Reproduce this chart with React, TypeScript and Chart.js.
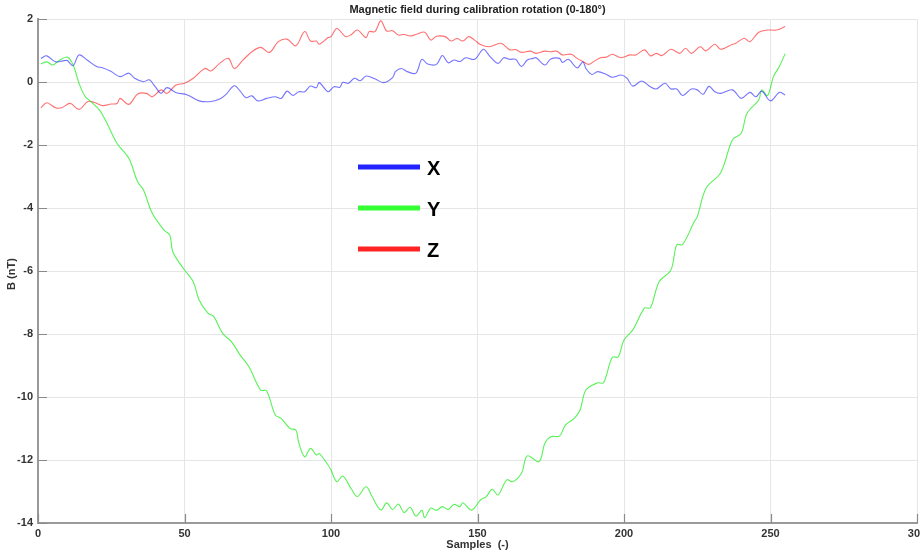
import React, { useEffect, useRef } from "react";
import { Chart, registerables } from "chart.js";

Chart.register(...registerables);

const chartTitle = "Magnetic field during calibration rotation (0-180°)";
const xAxisTitle = "Samples  (-)";
const yAxisTitle = "B (nT)";
const seriesNames = ["X", "Y", "Z"];

const xTicks = [0, 50, 100, 150, 200, 250, 300];
const yTicks = [-14, -12, -10, -8, -6, -4, -2, 0, 2];

// Series X (blue)
const samplesX = [
  1, 3, 6, 9, 10, 12, 14, 17, 20, 22,
  25, 28, 31, 33, 36, 38, 40, 42, 44, 47,
  51, 55, 59, 62, 64, 67, 69, 71, 73, 75,
  78, 81, 83, 85, 87, 89, 91, 93, 95, 96,
  99, 101, 103, 104, 106, 108, 110, 112, 115, 118,
  121, 122, 124, 126, 129, 131, 133, 136, 138, 140,
  142, 144, 146, 149, 152, 154, 157, 159, 161, 163,
  165, 167, 169, 170, 173, 175, 178, 179, 181, 184,
  186, 187, 189, 191, 194, 196, 199, 201, 203, 206,
  209, 211, 214, 216, 218, 220, 223, 225, 227, 229,
  231, 233, 237, 240, 243, 245, 247, 250, 253, 255,
];
const valuesX = [
  0.75, 0.83, 0.64, 0.68, 0.68, 0.52, 0.86, 0.68, 0.49, 0.45,
  0.33, 0.17, 0.28, 0.12, 0.01, 0.07, -0.15, -0.36, -0.18, -0.33,
  -0.41, -0.6, -0.62, -0.54, -0.41, -0.12, -0.29, -0.5, -0.44, -0.6,
  -0.52, -0.47, -0.52, -0.29, -0.43, -0.31, -0.31, -0.13, -0.18, -0.02,
  -0.31, -0.15, -0.17, -0.01, -0.04, 0.12, 0.04, 0.19, 0.1, -0.02,
  0.14, 0.33, 0.43, 0.33, 0.28, 0.72, 0.57, 0.56, 0.84, 0.61,
  0.7, 0.65, 0.77, 0.72, 1.04, 0.84, 0.59, 0.77, 0.72, 0.72,
  0.49, 0.7, 0.75, 0.77, 0.54, 0.73, 0.75, 0.62, 0.72, 0.45,
  0.64, 0.43, 0.24, 0.33, 0.24, 0.15, 0.22, 0.12, -0.13, 0.03,
  -0.15, -0.22, -0.04, -0.22, -0.22, -0.43, -0.22, -0.25, -0.39, -0.14,
  -0.31, -0.36, -0.25, -0.52, -0.33, -0.47, -0.29, -0.6, -0.33, -0.41,
];

// Series Y (green)
const samplesY = [
  1, 3, 5, 7, 10, 12, 14, 16, 18, 21,
  23, 27, 31, 34, 36, 39, 43, 45, 46, 50,
  53, 55, 58, 60, 63, 66, 69, 72, 76, 78,
  81, 83, 86, 88, 89, 91, 93, 95, 96, 99,
  100, 102, 104, 107, 109, 112, 114, 117, 119, 121,
  123, 125, 127, 129, 131, 132, 134, 136, 138, 140,
  142, 144, 145, 148, 151, 153, 155, 157, 160, 162,
  165, 167, 171, 173, 175, 178, 180, 183, 185, 187,
  191, 193, 196, 198, 200, 203, 207, 209, 212, 216,
  218, 220, 224, 225, 228, 233, 237, 240, 242, 246,
  247, 249, 251, 253, 255,
];
const valuesY = [
  0.57, 0.64, 0.54, 0.67, 0.79, 0.54, -0.04, -0.45, -0.62, -0.89,
  -1.21, -1.95, -2.42, -3.17, -3.43, -4.17, -4.7, -4.86, -5.39, -5.97,
  -6.34, -6.92, -7.34, -7.45, -7.98, -8.24, -8.67, -9.04, -9.78, -9.8,
  -10.57, -10.68, -11.0, -11.05, -11.45, -11.9, -11.63, -11.84, -11.8, -12.16,
  -12.32, -12.69, -12.51, -12.93, -13.16, -12.85, -13.16, -13.59, -13.36, -13.57,
  -13.4, -13.67, -13.5, -13.78, -13.6, -13.83, -13.53, -13.6, -13.48, -13.57,
  -13.41, -13.48, -13.36, -13.59, -13.27, -13.16, -12.93, -13.11, -12.63, -12.69,
  -12.42, -11.87, -12.05, -11.47, -11.26, -11.24, -10.89, -10.68, -10.41, -9.78,
  -9.55, -9.55, -8.74, -8.73, -8.19, -7.87, -7.18, -7.17, -6.34, -5.97,
  -5.17, -5.16, -4.43, -4.28, -3.37, -2.88, -1.84, -1.63, -0.99, -0.57,
  -0.25, -0.43, 0.17, 0.49, 0.9,
];

// Series Z (red)
const samplesZ = [
  1, 3, 6, 8, 11, 14, 17, 19, 22, 25,
  27, 28, 31, 34, 37, 39, 42, 44, 47, 50,
  53, 57, 59, 62, 65, 67, 70, 73, 76, 79,
  82, 85, 88, 91, 93, 95, 96, 99, 100, 102,
  105, 107, 109, 112, 113, 115, 117, 119, 121, 123,
  125, 127, 129, 132, 134, 136, 139, 141, 143, 145,
  147, 149, 151, 154, 158, 161, 163, 165, 168, 170,
  173, 175, 177, 179, 182, 184, 186, 188, 190, 192,
  194, 196, 199, 202, 204, 207, 209, 211, 213, 216,
  219, 221, 223, 226, 228, 231, 233, 237, 238, 241,
  243, 246, 249, 252, 255,
];
const valuesZ = [
  -0.82, -0.66, -0.82, -0.82, -0.68, -0.87, -0.62, -0.64, -0.75, -0.7,
  -0.68, -0.52, -0.71, -0.38, -0.36, -0.47, -0.25, -0.36, -0.1, -0.04,
  0.12, 0.43, 0.35, 0.59, 0.75, 0.43, 0.7, 0.96, 1.1, 0.94,
  1.28, 1.36, 1.15, 1.6, 1.3, 1.3, 1.2, 1.41, 1.44, 1.7,
  1.44, 1.51, 1.65, 1.41, 1.6, 1.6, 1.94, 1.62, 1.63, 1.49,
  1.51, 1.46, 1.51, 1.58, 1.33, 1.45, 1.44, 1.3, 1.38, 1.3,
  1.44, 1.33, 1.19, 1.12, 1.23, 1.02, 1.03, 0.94, 0.98, 0.91,
  0.98, 0.96, 0.98, 0.86, 0.88, 0.75, 0.65, 0.56, 0.67, 0.77,
  0.79, 0.88, 0.77, 0.86, 0.86, 1.02, 0.83, 0.91, 0.84, 1.04,
  0.91, 1.07, 0.91, 1.12, 0.99, 1.2, 1.04, 1.2, 1.22, 1.39,
  1.28, 1.58, 1.65, 1.65, 1.76,
];

const lineColors = ["rgba(30,30,255,0.62)", "rgba(20,235,20,0.7)", "rgba(255,25,25,0.62)"];
const legendColors = ["#2323ff", "#33ff33", "#ff2323"];

const toPoints = (xs: number[], ys: number[]) => xs.map((x, i) => ({ x, y: ys[i] }));

const FONT = "'Liberation Sans', Arial, sans-serif";

const decoPlugin = {
  id: "deco",
  afterDraw(chart: any) {
    const { ctx, chartArea, scales } = chart;
    const { left, right, top, bottom } = chartArea;
    ctx.save();
    // inner tick marks
    ctx.strokeStyle = "#8a8a8a";
    ctx.lineWidth = 1.2;
    ctx.beginPath();
    xTicks.forEach((v) => {
      const px = Math.round(scales.x.getPixelForValue(v)) + 0.5;
      ctx.moveTo(px, bottom);
      ctx.lineTo(px, bottom - 9);
    });
    yTicks.forEach((v) => {
      const py = Math.round(scales.y.getPixelForValue(v)) + 0.5;
      ctx.moveTo(left, py);
      ctx.lineTo(left + 9, py);
    });
    ctx.stroke();

    // title
    ctx.fillStyle = "#222";
    ctx.font = `bold 11px ${FONT}`;
    ctx.textAlign = "center";
    ctx.textBaseline = "middle";
    const cx = (left + right) / 2;
    ctx.fillText(chartTitle, cx, 10);
    // x axis title
    ctx.fillStyle = "#333";
    ctx.fillText(xAxisTitle, cx, 545);
    // y axis title
    ctx.save();
    ctx.translate(12, (top + bottom) / 2 + 3);
    ctx.rotate(-Math.PI / 2);
    ctx.fillText(yAxisTitle, 0, 0);
    ctx.restore();

    // legend inside plot
    const legendRows = [167, 208, 249];
    ctx.lineCap = "butt";
    seriesNames.forEach((name, i) => {
      const y = legendRows[i];
      ctx.strokeStyle = legendColors[i];
      ctx.lineWidth = 5;
      ctx.beginPath();
      ctx.moveTo(left + 320, y);
      ctx.lineTo(left + 382, y);
      ctx.stroke();
      ctx.fillStyle = "#000";
      ctx.font = `bold 20px ${FONT}`;
      ctx.textAlign = "left";
      ctx.textBaseline = "middle";
      ctx.fillText(name, left + 389, y + 2);
    });
    ctx.restore();
  },
};

export default function App() {
  const canvasRef = useRef<HTMLCanvasElement | null>(null);

  useEffect(() => {
    document.body.style.margin = "0";
    const canvas = canvasRef.current;
    if (!canvas) return;
    const chart = new Chart(canvas, {
      type: "line",
      data: {
        datasets: [
          { label: seriesNames[0], data: toPoints(samplesX, valuesX) },
          { label: seriesNames[1], data: toPoints(samplesY, valuesY) },
          { label: seriesNames[2], data: toPoints(samplesZ, valuesZ) },
        ].map((d, i) => ({
          ...d,
          borderColor: lineColors[i],
          backgroundColor: lineColors[i],
          borderWidth: 1.1,
          pointRadius: 0,
          tension: 0.35,
          fill: false,
        })),
      },
      options: {
        responsive: false,
        animation: false,
        devicePixelRatio: 1,
        layout: { padding: { top: 19, right: 3, left: 0, bottom: 0 } },
        plugins: {
          legend: { display: false },
          title: { display: false },
          tooltip: { enabled: false },
        },
        scales: {
          x: {
            type: "linear",
            min: 0,
            max: 300,
            afterBuildTicks: (scale: any) => {
              scale.ticks = xTicks.map((v) => ({ value: v }));
            },
            afterFit: (scale: any) => {
              scale.height = 30;
              scale.paddingLeft = 0;
              scale.paddingRight = 0;
            },
            ticks: {
              color: "#333",
              font: { family: FONT, size: 11, weight: "bold" },
              padding: 4,
              maxRotation: 0,
              autoSkip: false,
            },
            grid: { color: "#e6e6e6", lineWidth: 1, drawTicks: false },
            border: { display: true, color: "#9a9a9a", width: 2 },
          },
          y: {
            type: "linear",
            min: -14,
            max: 2,
            afterBuildTicks: (scale: any) => {
              scale.ticks = yTicks.map((v) => ({ value: v }));
            },
            afterFit: (scale: any) => {
              scale.width = 38;
              scale.paddingTop = 0;
              scale.paddingBottom = 0;
            },
            ticks: {
              color: "#333",
              font: { family: FONT, size: 11, weight: "bold" },
              padding: 5,
              autoSkip: false,
            },
            grid: { color: "#e6e6e6", lineWidth: 1, drawTicks: false },
            border: { display: true, color: "#9a9a9a", width: 2 },
          },
        },
      },
      plugins: [decoPlugin],
    } as any);
    return () => chart.destroy();
  }, []);

  return (
    <div style={{ width: 920, height: 553, background: "#fff" }}>
      <canvas ref={canvasRef} width={920} height={553} style={{ display: "block" }} />
    </div>
  );
}
